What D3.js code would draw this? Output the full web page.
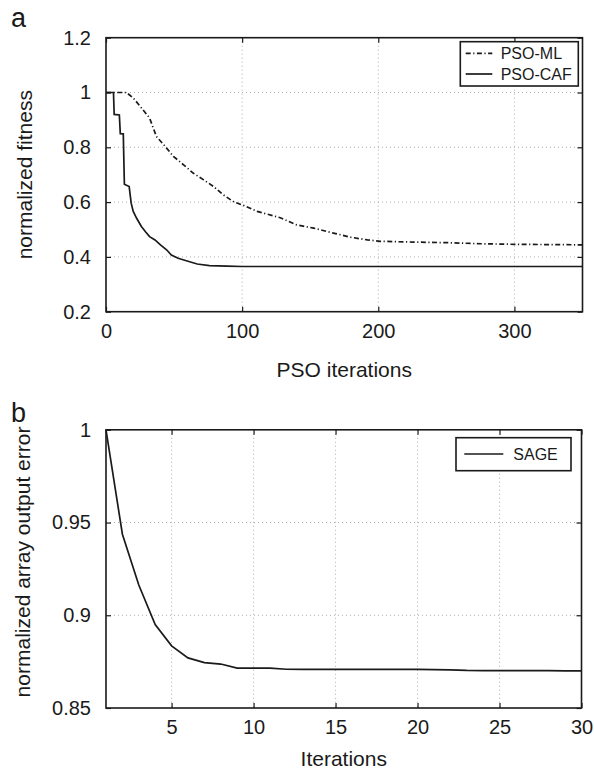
<!DOCTYPE html>
<html>
<head>
<meta charset="utf-8">
<script src="https://cdn.jsdelivr.net/npm/d3@7"></script>
<style>
  html, body { margin: 0; padding: 0; background: #fff; }
  svg { display: block; font-family: "Liberation Sans", Arial, Helvetica, sans-serif; }
</style>
</head>
<body>
<svg id="chart" width="594" height="772"></svg>
<script>
// panel a : PSO convergence
const cafIter = [0, 5.5, 6, 9.8, 10.5, 12.7, 13.5, 17, 18.5, 20, 22.5, 26, 29, 32, 36, 40, 44.5, 48, 53, 59, 67, 76, 89, 100, 150, 200, 250, 300, 350];
const cafFitness = [1, 1, 0.92, 0.918, 0.85, 0.849, 0.665, 0.657, 0.596, 0.566, 0.541, 0.511, 0.492, 0.474, 0.462, 0.444, 0.426, 0.407, 0.395, 0.386, 0.374, 0.368, 0.366, 0.365, 0.365, 0.365, 0.365, 0.365, 0.365];
const mlIter = [0, 15, 20, 26, 32, 37, 44.5, 49.5, 57, 64, 71.5, 79, 86, 93.5, 101, 111, 128, 140, 152.5, 167, 179.5, 192, 201.5, 226, 250, 275, 300, 350];
const mlFitness = [1, 1, 0.98, 0.944, 0.907, 0.84, 0.797, 0.767, 0.736, 0.706, 0.682, 0.657, 0.627, 0.602, 0.588, 0.566, 0.543, 0.517, 0.505, 0.487, 0.472, 0.462, 0.457, 0.454, 0.452, 0.448, 0.446, 0.444];
const aXTicks = [0, 100, 200, 300];
const aYTicks = [0.2, 0.4, 0.6, 0.8, 1, 1.2];
const aYTickLabels = ["0.2", "0.4", "0.6", "0.8", "1", "1.2"];

// panel b : SAGE
const sageIter = d3.range(1, 31);
const sageError = [1, 0.9437, 0.9163, 0.895, 0.8835, 0.877, 0.8745, 0.8737, 0.8715, 0.8715, 0.8715, 0.8709, 0.8708, 0.8708, 0.8708, 0.8708, 0.8708, 0.8708, 0.8708, 0.8708, 0.8707, 0.8706, 0.8703, 0.8702, 0.8702, 0.8701, 0.8701, 0.8701, 0.87, 0.87];
const bXTicks = [5, 10, 15, 20, 25, 30];
const bYTicks = [0.85, 0.9, 0.95, 1];
const bYTickLabels = ["0.85", "0.9", "0.95", "1"];

const svg = d3.select("#chart");
const ink = "#1a1a1a";
const dashDot = "5 2.5 1.2 2.5";

function drawPanel(cfg) {
  const { left, right, top, bottom } = cfg.box;
  const x = d3.scaleLinear().domain(cfg.xDomain).range([left, right]);
  const y = d3.scaleLinear().domain(cfg.yDomain).range([bottom, top]);
  const g = svg.append("g");

  // dotted grid
  g.append("g").selectAll("line").data(cfg.xTicks.filter((t) => t > cfg.xDomain[0] && t < cfg.xDomain[1]))
    .join("line")
    .attr("x1", (d) => x(d)).attr("x2", (d) => x(d)).attr("y1", top).attr("y2", bottom)
    .attr("stroke", "#9a9a9a").attr("stroke-width", 0.8).attr("stroke-dasharray", "1 3");
  g.append("g").selectAll("line").data(cfg.yTicks.filter((t) => t > cfg.yDomain[0] && t < cfg.yDomain[1]))
    .join("line")
    .attr("y1", (d) => y(d)).attr("y2", (d) => y(d)).attr("x1", left).attr("x2", right)
    .attr("stroke", "#9a9a9a").attr("stroke-width", 0.8).attr("stroke-dasharray", "1 3");

  // series
  cfg.series.forEach((s) => {
    const pts = s.xs.map((v, i) => [v, s.ys[i]]);
    g.append("path")
      .attr("d", d3.line().x((p) => x(p[0])).y((p) => y(p[1]))(pts))
      .attr("fill", "none").attr("stroke", ink).attr("stroke-width", 1.7)
      .attr("stroke-dasharray", s.dash || null);
  });

  // axes, ticks inward on all sides
  const styleAxis = (axis) => {
    axis.select(".domain").remove();
    axis.selectAll("line").attr("stroke", ink).attr("stroke-width", 1.2);
    axis.selectAll("text").attr("fill", ink).style("font-size", "20px").style("font-family", "inherit");
  };
  g.append("g").attr("transform", `translate(0,${bottom})`)
    .call(d3.axisBottom(x).tickValues(cfg.xTicks).tickSize(-5).tickPadding(12).tickFormat(d3.format("d")))
    .call(styleAxis);
  g.append("g").attr("transform", `translate(0,${top})`)
    .call(d3.axisTop(x).tickValues(cfg.xTicks).tickSize(-5).tickFormat(""))
    .call(styleAxis);
  g.append("g").attr("transform", `translate(${left},0)`)
    .call(d3.axisLeft(y).tickValues(cfg.yTicks).tickSize(-5).tickPadding(15).tickFormat((d, i) => cfg.yTickLabels[i]))
    .call(styleAxis);
  g.append("g").attr("transform", `translate(${right},0)`)
    .call(d3.axisRight(y).tickValues(cfg.yTicks).tickSize(-5).tickFormat(""))
    .call(styleAxis);

  g.append("rect").attr("x", left).attr("y", top).attr("width", right - left).attr("height", bottom - top)
    .attr("fill", "none").attr("stroke", ink).attr("stroke-width", 1.6);

  // labels
  g.append("text").attr("x", (left + right) / 2).attr("y", cfg.xLabelY).attr("text-anchor", "middle")
    .style("font-size", "21px").attr("fill", ink).text(cfg.xLabel);
  g.append("text").attr("transform", `translate(${cfg.yLabelX},${cfg.yLabelCenter}) rotate(-90)`).attr("text-anchor", "middle")
    .style("font-size", "21px").attr("fill", ink).text(cfg.yLabel);
  g.append("text").attr("x", cfg.tag[0]).attr("y", cfg.tag[1]).style("font-size", "27px").attr("fill", ink).text(cfg.tagText);

  // legend
  const lg = cfg.legend;
  g.append("rect").attr("x", lg.x).attr("y", lg.y).attr("width", lg.w).attr("height", lg.h)
    .attr("fill", "#fff").attr("stroke", ink).attr("stroke-width", 1.6);
  cfg.series.forEach((s, i) => {
    const yy = lg.y + lg.first + i * lg.step;
    g.append("line").attr("x1", lg.x + lg.lineX0).attr("x2", lg.x + lg.lineX1).attr("y1", yy).attr("y2", yy)
      .attr("stroke", ink).attr("stroke-width", 1.7).attr("stroke-dasharray", s.dash || null);
    g.append("text").attr("x", lg.x + lg.textX).attr("y", yy + 5.5).style("font-size", "16px").attr("fill", ink).text(s.name);
  });
}

drawPanel({
  box: { left: 106, right: 582.5, top: 37.7, bottom: 311.7 },
  xDomain: [0, 350], yDomain: [0.2, 1.2],
  xTicks: aXTicks, yTicks: aYTicks, yTickLabels: aYTickLabels,
  series: [
    { name: "PSO-ML", xs: mlIter, ys: mlFitness, dash: dashDot },
    { name: "PSO-CAF", xs: cafIter, ys: cafFitness }
  ],
  xLabel: "PSO iterations", xLabelY: 377,
  yLabel: "normalized fitness", yLabelX: 32, yLabelCenter: 174.7,
  tag: [11, 27], tagText: "a",
  legend: { x: 460.3, y: 41.7, w: 118, h: 44.3, first: 11.6, step: 20.7, lineX0: 5.4, lineX1: 32, textX: 40.4 }
});

drawPanel({
  box: { left: 106, right: 581.5, top: 429.8, bottom: 708 },
  xDomain: [1, 30], yDomain: [0.85, 1],
  xTicks: bXTicks, yTicks: bYTicks, yTickLabels: bYTickLabels,
  series: [
    { name: "SAGE", xs: sageIter, ys: sageError }
  ],
  xLabel: "Iterations", xLabelY: 766,
  yLabel: "normalized array output error", yLabelX: 30, yLabelCenter: 562,
  tag: [11, 422], tagText: "b",
  legend: { x: 456, y: 437.7, w: 115, h: 33, first: 16.3, step: 20, lineX0: 8.3, lineX1: 47.3, textX: 57.3 }
});
</script>
</body>
</html>
